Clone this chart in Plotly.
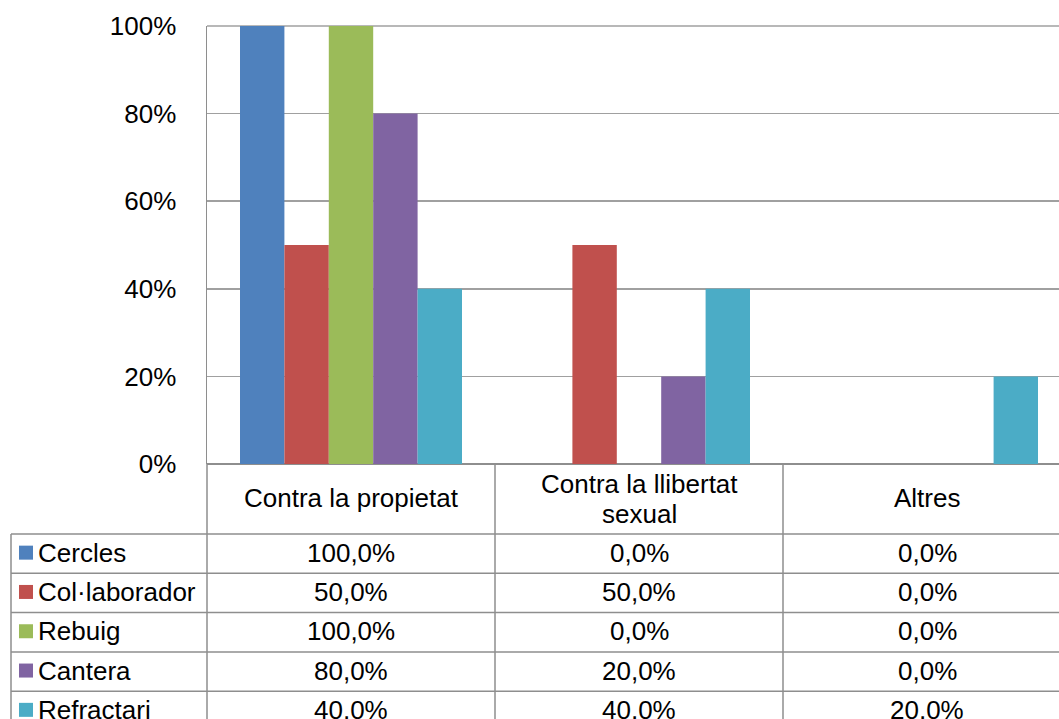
import plotly.graph_objects as go

categories = ["Contra la propietat", "Contra la llibertat sexual", "Altres"]
header_lines = [["Contra la propietat"], ["Contra la llibertat", "sexual"], ["Altres"]]
series_names = ["Cercles", "Col·laborador", "Rebuig", "Cantera", "Refractari"]
cercles = [100.0, 0.0, 0.0]
collaborador = [50.0, 50.0, 0.0]
rebuig = [100.0, 0.0, 0.0]
cantera = [80.0, 20.0, 0.0]
refractari = [40.0, 40.0, 20.0]
series_values = [cercles, collaborador, rebuig, cantera, refractari]
colors = ["#4F81BD", "#C0504D", "#9BBB59", "#8064A2", "#4BACC6"]
y_ticks = [0, 0.2, 0.4, 0.6, 0.8, 1.0]
y_ticklabels = ["0%", "20%", "40%", "60%", "80%", "100%"]

FONT = "Liberation Sans, Arial, sans-serif"
FS = 26
GRID = "#A0A0A0"
LINE = "#8E8E8E"

W, H = 1059, 719
L_PX, T_PX, B_PX, R_PX = 207, 26, 464, 1059
PH = B_PX - T_PX
PW = R_PX - L_PX
XR = [-0.5, 2.5 - 12 / 288]

def px_x(px):
    return (px - L_PX) / PW

def px_y(py):
    return (B_PX - py) / PH

def data_x(v):
    return (v - XR[0]) / (XR[1] - XR[0])

fig = go.Figure()
for name, vals, col in zip(series_names, series_values, colors):
    fig.add_trace(go.Bar(
        x=list(range(len(categories))), y=[v / 100 for v in vals], name=name,
        marker=dict(color=col, line=dict(width=0)),
        showlegend=False, hoverinfo="skip",
    ))

shapes = []
annotations = []
row_tops = [534, 573.3, 612.6, 651.9, 691.2]
row_h = 39.3
bottom = H + 20

for top in row_tops:
    shapes.append(dict(type="line", xref="paper", yref="paper",
                       x0=px_x(11), x1=1.05, y0=px_y(top), y1=px_y(top),
                       line=dict(color=LINE, width=1.5)))
shapes.append(dict(type="line", xref="paper", yref="paper",
                   x0=px_x(11), x1=px_x(11), y0=px_y(row_tops[0]), y1=px_y(bottom),
                   line=dict(color=LINE, width=1.5)))
for b in [-0.5, 0.5, 1.5]:
    shapes.append(dict(type="line", xref="paper", yref="paper",
                       x0=data_x(b), x1=data_x(b), y0=0, y1=px_y(bottom),
                       line=dict(color=LINE, width=1.5)))
shapes.append(dict(type="line", xref="paper", yref="paper",
                   x0=0, x1=1, y0=1, y1=1, line=dict(color=GRID, width=1.5), layer="below"))

for i, lines in enumerate(header_lines):
    if len(lines) == 1:
        annotations.append(dict(xref="x", yref="paper", x=i, y=px_y(498),
                                text=lines[0], showarrow=False, yanchor="middle",
                                font=dict(family=FONT, size=FS, color="black")))
    else:
        for j, ln in enumerate(lines):
            annotations.append(dict(xref="x", yref="paper", x=i, y=px_y(484 + 30 * j),
                                    text=ln, showarrow=False, yanchor="middle",
                                    font=dict(family=FONT, size=FS, color="black")))

for r, (name, vals, col) in enumerate(zip(series_names, series_values, colors)):
    cy = row_tops[r] + row_h / 2
    shapes.append(dict(type="rect", xref="paper", yref="paper",
                       x0=px_x(19), x1=px_x(33), y0=px_y(cy - 8), y1=px_y(cy + 6),
                       fillcolor=col, line=dict(width=0)))
    annotations.append(dict(xref="paper", yref="paper", x=px_x(36), y=px_y(cy - 1),
                            text=name, showarrow=False, xanchor="left", yanchor="middle",
                            font=dict(family=FONT, size=FS, color="black")))
    for i, v in enumerate(vals):
        txt = f"{v:.1f}".replace(".", ",") + "%"
        annotations.append(dict(xref="x", yref="paper", x=i, y=px_y(cy - 1),
                                text=txt, showarrow=False, yanchor="middle",
                                font=dict(family=FONT, size=FS, color="black")))

fig.update_layout(
    width=W, height=H,
    margin=dict(l=L_PX, r=W - R_PX, t=T_PX, b=H - B_PX, pad=0),
    paper_bgcolor="white", plot_bgcolor="white",
    barmode="group", bargap=66 / 288, bargroupgap=0,
    font=dict(family=FONT, size=FS, color="black"),
    shapes=shapes, annotations=annotations,
    xaxis=dict(range=XR, showticklabels=False, showgrid=False, zeroline=False,
               showline=False, ticks="", fixedrange=True),
    yaxis=dict(range=[0, 1], tickvals=y_ticks, ticktext=y_ticklabels,
               showgrid=True, gridcolor=GRID, gridwidth=1.5,
               zeroline=True, zerolinecolor=LINE, zerolinewidth=2,
               showline=True, linecolor=LINE, linewidth=1.5,
               ticks="", ticklabelstandoff=24,
               tickfont=dict(family=FONT, size=FS, color="black"), fixedrange=True),
)

fig.write_html(
    "out.html",
    config={"displayModeBar": False, "staticPlot": True},
    post_script="document.body.style.margin='0';document.body.style.overflow='hidden';",
)
